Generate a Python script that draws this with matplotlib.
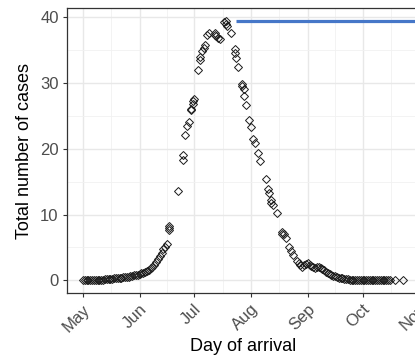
"""Daily arrivals over the season, with the peak level marked."""
import matplotlib
matplotlib.use("Agg")
import matplotlib.dates as mdates
import matplotlib.pyplot as plt
import matplotlib.transforms as mtransforms
import numpy as np
import pandas as pd

season_start = pd.Timestamp("2021-05-01")
axis_end = pd.Timestamp("2021-11-02")

# days after season_start, and the total number of cases on that day
arrival_day = [
    0, 1, 2, 3, 4, 5, 6, 7, 8, 9, 10, 11,
    12, 13, 14, 15, 16, 17, 18, 19, 20, 21, 22, 23,
    24, 25, 26, 27, 28, 29, 30, 31, 32, 33, 34, 35,
    36, 37, 38, 39, 40, 41, 42, 43, 44, 45, 46, 47, 47, 47,
    52, 55, 55, 56, 57, 58, 59, 59, 60, 60, 61, 63,
    64, 64, 65, 66, 67, 68, 69, 72, 72, 73, 74, 75,
    77, 78, 78, 79, 81, 83, 83, 84, 85, 87, 87, 88, 88, 89, 91, 92, 93, 94,
    96, 97, 100, 101, 102, 103, 103, 104, 106, 109,
    109, 110, 111, 113, 114, 115, 117, 118, 119, 120,
    121, 122, 123, 124, 125, 126, 127, 128, 129, 130, 131, 132, 133,
    134, 135, 136, 137, 138, 139, 140, 141, 142, 143, 144, 145,
    146, 147, 148, 149, 150, 151, 152, 153, 154, 155, 156, 157,
    158, 159, 160, 161, 162, 163, 164, 165, 166, 167, 168, 171, 175,
]
total_cases = [
    0.00, 0.00, 0.02, 0.02, 0.03, 0.05, 0.05, 0.06, 0.08, 0.10, 0.10, 0.12,
    0.15, 0.18, 0.20, 0.22, 0.25, 0.28, 0.32, 0.35, 0.38, 0.42, 0.45, 0.50,
    0.55, 0.58, 0.62, 0.68, 0.75, 0.80, 0.88, 0.95, 1.05, 1.15, 1.30, 1.45,
    1.60, 1.80, 2.05, 2.40, 2.85, 3.30, 3.70, 4.20, 4.70, 5.10, 5.50, 7.60, 7.90, 8.20,
    13.6, 18.3, 19.0, 22.1, 23.5, 24.0, 25.9, 26.1, 26.8, 27.2, 27.5, 32.0,
    33.5, 34.0, 34.8, 35.3, 35.8, 37.3, 37.5, 37.3, 37.5, 37.1, 36.8, 36.7,
    39.3, 39.4, 39.0, 38.7, 37.6, 35.1, 34.5, 33.8, 32.4, 29.8, 29.5, 29.0, 28.0, 26.7, 24.3, 23.3, 21.5, 20.8,
    19.4, 18.1, 15.4, 13.9, 13.2, 12.2, 11.8, 11.5, 10.2, 7.4,
    7.1, 7.0, 6.4, 5.1, 4.5, 3.9, 3.0, 2.6, 2.4, 2.1,
    2.3, 2.5, 2.6, 2.4, 2.2, 2.0, 1.9, 2.0, 2.0, 1.9, 1.7, 1.5, 1.3,
    1.1, 0.9, 0.8, 0.7, 0.6, 0.5, 0.4, 0.35, 0.3, 0.25, 0.2, 0.15,
    0.12, 0.10, 0.08, 0.08, 0.07, 0.06, 0.06, 0.05, 0.05, 0.05, 0.04, 0.04,
    0.04, 0.03, 0.03, 0.03, 0.03, 0.02, 0.02, 0.02, 0.02, 0.02, 0.02, 0.02, 0.01,
]
peak_line_start = pd.Timestamp("2021-07-24")

dates = season_start + pd.to_timedelta(arrival_day, unit="D")
cases = np.array(total_cases)

plt.rcParams["font.family"] = ["Liberation Sans", "DejaVu Sans"]

fig = plt.figure(figsize=(4.15, 3.57), dpi=100)
ax = fig.add_axes([67 / 415, 1 - 293.3 / 357, 354 / 415, 285.3 / 357])

ax.plot(dates, cases, linestyle="none", marker="D", markersize=3.6,
        markerfacecolor="none", markeredgecolor="#1a1a1a",
        markeredgewidth=0.7, zorder=3)

# peak level, running off to the right
peak = cases.max()
ax.hlines(peak, peak_line_start, axis_end, color="#4677c8", lw=2.3, zorder=4)

# same padding as ggplot's default 5% expansion
span = dates.max() - dates.min()
ax.set_xlim(dates.min() - span * 0.05, axis_end)
ax.set_ylim(cases.min() - 0.05 * np.ptp(cases), cases.max() + 0.05 * np.ptp(cases))

month_ticks = pd.date_range(season_start, periods=7, freq="MS")
ax.set_xticks(month_ticks)
ax.xaxis.set_major_formatter(mdates.DateFormatter("%b"))
mids = month_ticks[:-1] + (month_ticks[1:] - month_ticks[:-1]) / 2
ax.set_xticks(mids, minor=True)
ax.set_yticks([0, 10, 20, 30, 40])
ax.set_yticks([5, 15, 25, 35], minor=True)

ax.grid(which="major", color="#e8e8e8", lw=1.0)
ax.grid(which="minor", color="#f1f1f1", lw=0.6)
ax.set_axisbelow(True)

for side in ax.spines.values():
    side.set_color("#333333")
    side.set_linewidth(0.9)

ax.tick_params(which="major", length=3, width=0.8, color="#333333",
               labelcolor="#4d4d4d", labelsize=12, pad=3)
ax.tick_params(which="minor", length=0)

shift = mtransforms.ScaledTranslation(0.10, 0, fig.dpi_scale_trans)
for lbl in ax.get_xticklabels():
    lbl.set_rotation(45)
    lbl.set_ha("right")
    lbl.set_va("top")
    lbl.set_transform(lbl.get_transform() + shift)

ax.set_xlabel("Day of arrival", fontsize=13, color="black")
ax.xaxis.set_label_coords(0.497, -0.155)
ax.set_ylabel("Total number of cases", fontsize=13, color="black")
ax.yaxis.set_label_coords(-0.096, 0.5)

fig.savefig("out.png", dpi=100)
